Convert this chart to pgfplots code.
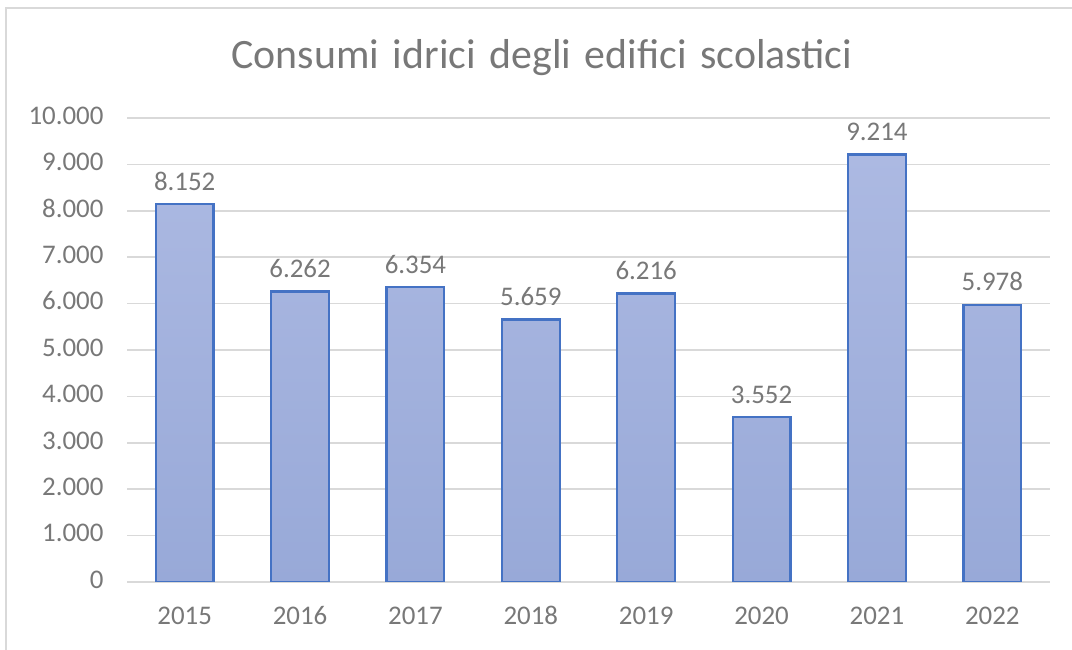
\documentclass[border=0pt]{standalone}
\usepackage{pgfplots}
\pgfplotsset{compat=1.18}
\usepackage{fontspec}
\setmainfont{Carlito}
\definecolor{txt}{HTML}{787878}
\definecolor{grd}{HTML}{D9D9D9}
\definecolor{brd}{HTML}{4472C4}
\definecolor{ftop}{HTML}{ACB9E2}
\definecolor{fbot}{HTML}{98A9D8}
\begin{document}
\begin{tikzpicture}[x=1bp,y=1bp]
\useasboundingbox (0,0) rectangle (1072,650);
\draw[color=grd,line width=2bp] (6,0) -- (6,642) -- (1072,642);
\node[text=txt,font=\fontsize{42}{48}\selectfont] at (542,592) {Consumi\hspace{0.1em} idrici\hspace{0.1em} degli\hspace{0.1em} edifici\hspace{0.1em} scolastici};
\begin{axis}[
  at={(127bp,68bp)}, anchor=south west,
  scale only axis, width=923bp, height=464bp,
  xmin=-0.5, xmax=7.5, ymin=0, ymax=10000,
  ytick={0,1000,...,10000},
  scaled ticks=false,
  xtick={0,...,7},
  xticklabels={2015,2016,2017,2018,2019,2020,2021,2022},
  typeset ticklabels with strut,
  axis line style={draw=none},
  axis x line*=bottom,
  x axis line style={draw=grd,line width=1.5bp},
  major tick length=0pt,
  ymajorgrids, grid style={color=grd,line width=1.5bp},
  tick label style={text=txt,font=\fontsize{27}{32}\selectfont},
  yticklabel style={xshift=-20bp},
  xticklabel style={yshift=-17bp},
  /pgf/number format/.cd, 1000 sep={.}, assume math mode=true,
]
\addplot[ybar, bar width=0.5, draw=brd, line width=2.2bp, top color=ftop, bottom color=fbot,
  nodes near coords, every node near coord/.append style={text=txt,font=\fontsize{27}{32}\selectfont, yshift=9bp},
  /pgf/number format/.cd, 1000 sep={.}, assume math mode=true]
coordinates {(0,8152) (1,6262) (2,6354) (3,5659) (4,6216) (5,3552) (6,9214) (7,5978)};
\end{axis}
\end{tikzpicture}
\end{document}
